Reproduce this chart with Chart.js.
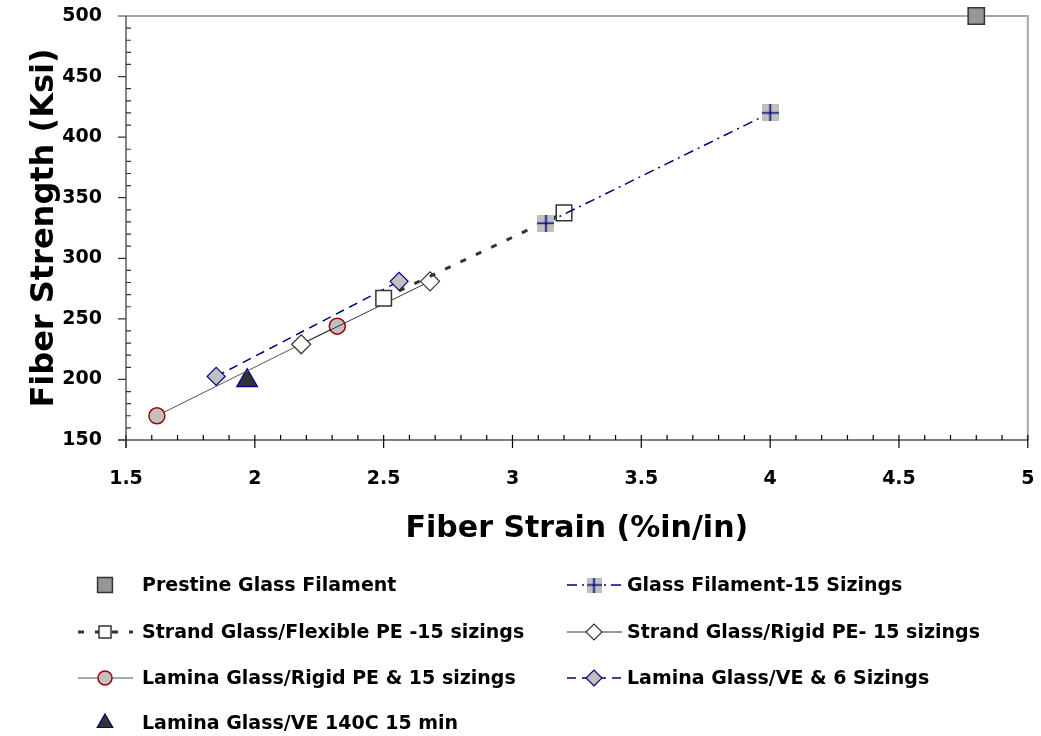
<!DOCTYPE html>
<html>
<head>
<meta charset="utf-8">
<script src="https://cdn.jsdelivr.net/npm/chart.js@4"></script>
<style>
  html, body { margin: 0; padding: 0; background: #fff; }
  #wrap { width: 1041px; height: 736px; }
</style>
</head>
<body>
<div id="wrap"><canvas id="chart" width="1041" height="736"></canvas></div>
<script>
// data: [strain %, strength ksi]
const prestine = [[4.8, 500]];
const glassFil15 = [[3.13, 329], [4.0, 420]];
const strandFlex = [[2.5, 267], [3.2, 337.5]];
const strandRigid = [[2.18, 229], [2.68, 281]];
const laminaRigid = [[1.62, 170], [2.32, 244]];
const laminaVE6 = [[1.85, 202.5], [2.56, 281]];
const laminaVE140 = [[1.97, 199]];

const xTicks = [1.5, 2, 2.5, 3, 3.5, 4, 4.5, 5];
const yTicks = [150, 200, 250, 300, 350, 400, 450, 500];

const FONT = "'DejaVu Sans', 'Liberation Sans', sans-serif";
const NAVY = "#000080";

const pts = (arr) => arr.map(([x, y]) => ({ x, y }));

// gray square with a navy cross, used as marker for the filament series
function crossMarker(size) {
  const c = document.createElement("canvas");
  c.width = size;
  c.height = size;
  const g = c.getContext("2d");
  g.fillStyle = "#c0c0c0";
  g.fillRect(0, 0, size, size);
  g.strokeStyle = NAVY;
  g.lineWidth = 1.6;
  g.beginPath();
  g.moveTo(size / 2, 0);
  g.lineTo(size / 2, size);
  g.moveTo(0, size / 2);
  g.lineTo(size, size / 2);
  g.stroke();
  return c;
}
const crossBig = crossMarker(17);
const crossSmall = crossMarker(15);

const datasets = [
  {
    label: "Prestine Glass Filament",
    data: pts(prestine),
    showLine: false,
    pointStyle: "rect",
    pointRadius: 11.5,
    backgroundColor: "#969696",
    borderColor: "#333333",
    pointBorderWidth: 1.5,
    legend: { col: 0, row: 0, line: false, radius: 10.5 },
  },
  {
    label: "Glass Filament-15 Sizings",
    data: pts(glassFil15),
    showLine: true,
    borderColor: NAVY,
    borderWidth: 1.5,
    borderDash: [10, 5, 2, 5],
    pointStyle: crossBig,
    pointRadius: 8,
    legend: { col: 1, row: 0, line: true, img: crossSmall },
  },
  {
    label: "Strand Glass/Flexible PE -15 sizings",
    data: pts(strandFlex),
    showLine: true,
    borderColor: "#333333",
    borderWidth: 3,
    borderDash: [6, 11],
    pointStyle: "rect",
    pointRadius: 11,
    backgroundColor: "#ffffff",
    pointBorderColor: "#333333",
    pointBorderWidth: 1.5,
    legend: { col: 0, row: 1, line: true, radius: 8.5 },
  },
  {
    label: "Strand Glass/Rigid PE- 15 sizings",
    data: pts(strandRigid),
    showLine: true,
    borderColor: "#333333",
    borderWidth: 1,
    pointStyle: "rectRot",
    pointRadius: 9.5,
    backgroundColor: "#ffffff",
    pointBorderColor: "#333333",
    pointBorderWidth: 1.2,
    legend: { col: 1, row: 1, line: true, radius: 8 },
  },
  {
    label: "Lamina Glass/Rigid PE & 15 sizings",
    data: pts(laminaRigid),
    showLine: true,
    borderColor: "#555555",
    borderWidth: 1,
    pointStyle: "circle",
    pointRadius: 8,
    backgroundColor: "#c0c0c0",
    pointBorderColor: "#a00000",
    pointBorderWidth: 1.5,
    legend: { col: 0, row: 2, line: true, radius: 7 },
  },
  {
    label: "Lamina Glass/VE & 6 Sizings",
    data: pts(laminaVE6),
    showLine: true,
    borderColor: NAVY,
    borderWidth: 1.5,
    borderDash: [9, 6],
    pointStyle: "rectRot",
    pointRadius: 9,
    backgroundColor: "#c0c0c0",
    pointBorderColor: NAVY,
    pointBorderWidth: 1.2,
    legend: { col: 1, row: 2, line: true, radius: 8 },
  },
  {
    label: "Lamina Glass/VE 140C 15 min",
    data: pts(laminaVE140),
    showLine: false,
    pointStyle: "triangle",
    pointRadius: 12,
    backgroundColor: "#333333",
    pointBorderColor: NAVY,
    pointBorderWidth: 1.2,
    legend: { col: 0, row: 3, line: false, radius: 9 },
  },
];

// frame + minor/major tick marks like the original spreadsheet chart
const framePlugin = {
  id: "frame",
  beforeDatasetsDraw(chart) {
    const { ctx, chartArea: a, scales } = chart;
    const xs = scales.x, ys = scales.y;
    ctx.save();
    ctx.strokeStyle = "#a6a6a6";
    ctx.lineWidth = 2;
    ctx.beginPath();
    ctx.moveTo(a.left, a.top);
    ctx.lineTo(a.right, a.top);
    ctx.lineTo(a.right, a.bottom);
    ctx.stroke();

    ctx.lineWidth = 1.2;
    ctx.strokeStyle = "#000";
    ctx.beginPath();
    ctx.moveTo(a.left - 8, a.bottom);
    ctx.lineTo(a.right, a.bottom);
    for (let i = 0; i <= 35; i++) {
      const px = xs.getPixelForValue(xs.min + i * 0.1);
      if (i % 5 === 0) {
        ctx.moveTo(px, a.bottom - 5);
        ctx.lineTo(px, a.bottom + 8);
      } else {
        ctx.moveTo(px, a.bottom - 5);
        ctx.lineTo(px, a.bottom);
      }
    }
    ctx.stroke();

    ctx.strokeStyle = "#333";
    ctx.beginPath();
    ctx.moveTo(a.left, a.top);
    ctx.lineTo(a.left, a.bottom + 8);
    for (let i = 0; i <= 35; i++) {
      const py = ys.getPixelForValue(ys.min + i * 10);
      if (i % 5 === 0) {
        ctx.moveTo(a.left - 8, py);
        ctx.lineTo(a.left, py);
      } else {
        ctx.moveTo(a.left, py);
        ctx.lineTo(a.left + 5, py);
      }
    }
    ctx.stroke();
    ctx.restore();
  },
};

// two-column legend under the axis title
const legendPlugin = {
  id: "gridLegend",
  afterDraw(chart) {
    const { ctx } = chart;
    const colMarker = [105, 594];
    const colText = [142, 627];
    const rowY = [585, 632, 678, 723];
    ctx.save();
    chart.data.datasets.forEach((ds) => {
      const L = ds.legend;
      const cx = colMarker[L.col];
      const cy = rowY[L.row];
      if (L.line) {
        ctx.save();
        ctx.strokeStyle = ds.borderColor;
        ctx.lineWidth = ds.borderWidth;
        ctx.setLineDash(ds.borderDash || []);
        ctx.beginPath();
        ctx.moveTo(cx - 27, cy);
        ctx.lineTo(cx + 28, cy);
        ctx.stroke();
        ctx.restore();
      }
      if (L.img) {
        ctx.drawImage(L.img, cx - L.img.width / 2, cy - L.img.height / 2);
      } else {
        ctx.save();
        ctx.fillStyle = ds.backgroundColor;
        ctx.strokeStyle = ds.pointBorderColor || ds.borderColor;
        ctx.lineWidth = ds.pointBorderWidth;
        Chart.helpers.drawPoint(ctx, { pointStyle: ds.pointStyle, radius: L.radius, rotation: 0, borderWidth: ds.pointBorderWidth }, cx, cy);
        ctx.restore();
      }
      ctx.fillStyle = "#000";
      ctx.font = "bold 19px " + FONT;
      ctx.textBaseline = "middle";
      ctx.textAlign = "left";
      ctx.fillText(ds.label, colText[L.col], cy + 1);
    });
    ctx.restore();
  },
};

new Chart(document.getElementById("chart"), {
  type: "scatter",
  data: { datasets },
  options: {
    responsive: false,
    animation: false,
    clip: false,
    layout: { padding: { top: 16, right: 12, left: 0, bottom: 0 } },
    elements: { line: { tension: 0 } },
    plugins: {
      legend: { display: false },
      tooltip: { enabled: false },
    },
    scales: {
      x: {
        type: "linear",
        min: xTicks[0],
        max: xTicks[xTicks.length - 1],
        afterBuildTicks: (s) => { s.ticks = xTicks.map((v) => ({ value: v })); },
        afterFit: (s) => {
          s.height = 296;
          s.paddingLeft = 0;
          s.paddingRight = 0;
        },
        grid: { display: false },
        border: { display: false },
        ticks: {
          autoSkip: false,
          maxRotation: 0,
          padding: 20,
          color: "#000",
          font: { family: FONT, size: 19, weight: "bold" },
          callback: (v) => String(v),
        },
        title: {
          display: true,
          text: "Fiber Strain (%in/in)",
          color: "#000",
          font: { family: FONT, size: 30, weight: "bold" },
          padding: { top: 0, bottom: 189 },
        },
      },
      y: {
        type: "linear",
        min: yTicks[0],
        max: yTicks[yTicks.length - 1],
        afterBuildTicks: (s) => { s.ticks = yTicks.map((v) => ({ value: v })); },
        afterFit: (s) => {
          s.width = 126;
          s.paddingTop = 0;
          s.paddingBottom = 0;
        },
        grid: { display: false },
        border: { display: false },
        ticks: {
          padding: 16,
          color: "#000",
          font: { family: FONT, size: 19, weight: "bold" },
          callback: (v) => String(v),
        },
        title: {
          display: true,
          text: "Fiber Strength (Ksi)",
          color: "#000",
          font: { family: FONT, size: 32, weight: "bold" },
          padding: { top: 25, bottom: 0 },
        },
      },
    },
  },
  plugins: [framePlugin, legendPlugin],
});
</script>
</body>
</html>
